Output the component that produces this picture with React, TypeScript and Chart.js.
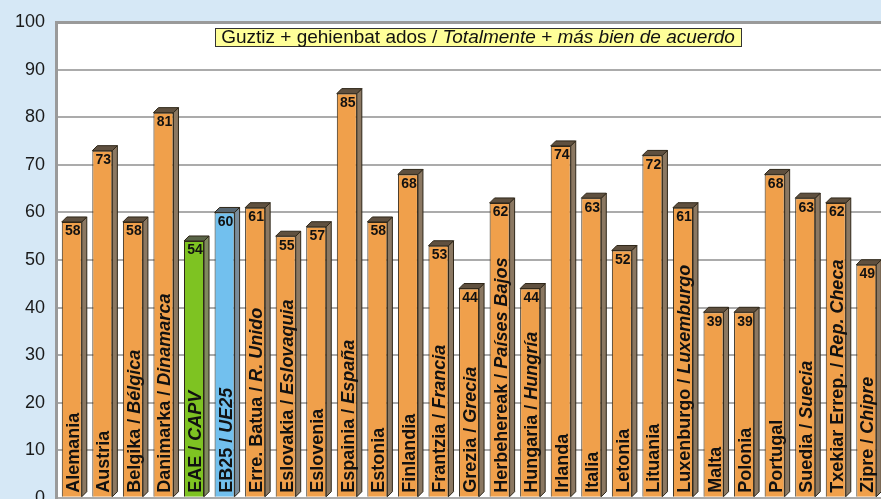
import React, { useEffect, useRef } from "react";
import { Chart, registerables } from "chart.js";

Chart.register(...registerables);

// Basque part (regular bold) and Spanish part (bold italic) of each category
const categoriesEu = [
  "Alemania", "Austria", "Belgika / ", "Danimarka / ", "EAE / ", "EB25 / ",
  "Erre. Batua / ", "Eslovakia / ", "Eslovenia", "Espainia / ", "Estonia",
  "Finlandia", "Frantzia / ", "Grezia / ", "Herbehereak / ", "Hungaria / ",
  "Irlanda", "Italia", "Letonia", "Lituania", "Luxenburgo / ", "Malta",
  "Polonia", "Portugal", "Suedia / ", "Txekiar Errep. / ", "Zipre / ",
];
const categoriesEs = [
  "", "", "Bélgica", "Dinamarca", "CAPV", "UE25",
  "R. Unido", "Eslovaquia", "", "España", "",
  "", "Francia", "Grecia", "Países Bajos", "Hungría",
  "", "", "", "", "Luxemburgo", "",
  "", "", "Suecia", "Rep. Checa", "Chipre",
];
const values = [
  58, 73, 58, 81, 54, 60, 61, 55, 57, 85, 58, 68, 53, 44, 62, 44,
  74, 63, 52, 72, 61, 39, 39, 68, 63, 62, 49,
];
const yTicks = [0, 10, 20, 30, 40, 50, 60, 70, 80, 90, 100];
const titleEu = "Guztiz + gehienbat ados / ";
const titleEs = "Totalmente + más bien de acuerdo";

const FONT = '"Liberation Sans", Arial, Helvetica, sans-serif';
const CANVAS_W = 890;
const CANVAS_H = 520;

function faceColors(i: number) {
  const eu = categoriesEu[i];
  if (eu.startsWith("EAE")) return { front: "#7EC322", side: "#7f8a5e", top: "#596447" };
  if (eu.startsWith("EB25")) return { front: "#72C0EE", side: "#7a8d9c", top: "#566672" };
  return { front: "#F0A04B", side: "#8b7862", top: "#5f503f" };
}

const decoPlugin = {
  id: "deco",
  beforeDraw(chart: any) {
    const { ctx, chartArea: a, width, height } = chart;
    ctx.save();
    ctx.fillStyle = "#D6E8F6";
    ctx.fillRect(0, 0, width, height);
    ctx.fillStyle = "#ffffff";
    ctx.fillRect(a.left, a.top, a.right - a.left, a.bottom - a.top);
    ctx.restore();
  },
  afterDatasetsDraw(chart: any) {
    const ctx = chart.ctx;
    const meta = chart.getDatasetMeta(0);
    const d = 5;
    ctx.save();
    meta.data.forEach((bar: any, i: number) => {
      const { x, y, base, width } = bar.getProps(["x", "y", "base", "width"], true);
      const l = x - width / 2;
      const r = x + width / 2;
      const c = faceColors(i);
      ctx.lineWidth = 1;
      ctx.strokeStyle = "#2f2719";
      // side face
      ctx.beginPath();
      ctx.moveTo(r, y);
      ctx.lineTo(r + d, y - d);
      ctx.lineTo(r + d, base - d);
      ctx.lineTo(r, base);
      ctx.closePath();
      ctx.fillStyle = c.side;
      ctx.fill();
      ctx.stroke();
      // top face
      ctx.beginPath();
      ctx.moveTo(l, y);
      ctx.lineTo(l + d, y - d);
      ctx.lineTo(r + d, y - d);
      ctx.lineTo(r, y);
      ctx.closePath();
      ctx.fillStyle = c.top;
      ctx.fill();
      ctx.stroke();

      // category label, vertical inside the bar
      ctx.save();
      ctx.translate(x + 7, base - 4);
      ctx.rotate(-Math.PI / 2);
      ctx.textAlign = "left";
      ctx.textBaseline = "alphabetic";
      ctx.fillStyle = "#111111";
      ctx.font = `bold 18px ${FONT}`;
      ctx.fillText(categoriesEu[i], 0, 0);
      const w = ctx.measureText(categoriesEu[i]).width;
      if (categoriesEs[i]) {
        ctx.font = `italic bold 18px ${FONT}`;
        ctx.fillText(categoriesEs[i], w, 0);
      }
      ctx.restore();

      // value label at top of bar
      ctx.font = `bold 14px ${FONT}`;
      ctx.textAlign = "center";
      ctx.textBaseline = "alphabetic";
      ctx.fillStyle = "#111111";
      ctx.fillText(String(values[i]), x + 1, y + 13.5);
    });
    ctx.restore();
  },
  afterDraw(chart: any) {
    const ctx = chart.ctx;
    ctx.save();
    const size = 19;
    ctx.font = `${size}px ${FONT}`;
    const w1 = ctx.measureText(titleEu).width;
    ctx.font = `italic ${size}px ${FONT}`;
    const w2 = ctx.measureText(titleEs).width;
    const total = w1 + w2;
    const cx = 478;
    const bx = Math.round(cx - total / 2 - 6);
    const bw = Math.round(total + 12);
    ctx.fillStyle = "#FFFF99";
    ctx.fillRect(bx, 28, bw, 19);
    ctx.strokeStyle = "#333333";
    ctx.lineWidth = 1;
    ctx.strokeRect(bx + 0.5, 28.5, bw, 18);
    ctx.fillStyle = "#111111";
    ctx.textBaseline = "alphabetic";
    ctx.textAlign = "left";
    ctx.font = `${size}px ${FONT}`;
    ctx.fillText(titleEu, cx - total / 2, 42.5);
    ctx.font = `italic ${size}px ${FONT}`;
    ctx.fillText(titleEs, cx - total / 2 + w1, 42.5);
    ctx.restore();
  },
};

export default function App() {
  const canvasRef = useRef<HTMLCanvasElement | null>(null);

  useEffect(() => {
    if (!canvasRef.current) return;
    const chart = new Chart(canvasRef.current, {
      type: "bar",
      data: {
        labels: categoriesEu.map((e, i) => e + categoriesEs[i]),
        datasets: [
          {
            data: values,
            backgroundColor: values.map((_, i) => faceColors(i).front),
            borderColor: "#2f2719",
            borderWidth: 1,
            categoryPercentage: 1,
            barPercentage: 0.655,
          },
        ],
      },
      options: {
        responsive: false,
        animation: false,
        devicePixelRatio: 1,
        layout: {
          padding: { top: 17.2, right: CANVAS_W - 881.6, bottom: CANVAS_H - 500.6, left: 0 },
        },
        plugins: {
          legend: { display: false },
          tooltip: { enabled: false },
          title: { display: false },
        },
        scales: {
          x: { display: false, grid: { display: false } },
          y: {
            min: 0,
            max: 100,
            afterBuildTicks(scale: any) {
              scale.ticks = yTicks.map((v) => ({ value: v }));
            },
            afterFit(scale: any) {
              scale.width = 56.5;
            },
            ticks: {
              padding: 11.5,
              color: "#1a1a1a",
              font: { family: FONT, size: 18 },
            },
            grid: {
              drawTicks: false,
              color: (c: any) => (c.tick && c.tick.value === 100 ? "#9a9a9a" : "#ababab"),
              lineWidth: (c: any) => (c.tick && c.tick.value === 100 ? 3 : 2),
            },
            border: { display: true, width: 3, color: "#9a9a9a" },
          },
        },
      },
      plugins: [decoPlugin],
    });
    return () => chart.destroy();
  }, []);

  return (
    <div
      style={{
        position: "fixed",
        left: 0,
        top: 0,
        width: 881,
        height: 499,
        overflow: "hidden",
        background: "#D6E8F6",
      }}
    >
      <canvas
        ref={canvasRef}
        width={CANVAS_W}
        height={CANVAS_H}
        style={{ display: "block", width: CANVAS_W, height: CANVAS_H }}
      />
    </div>
  );
}
